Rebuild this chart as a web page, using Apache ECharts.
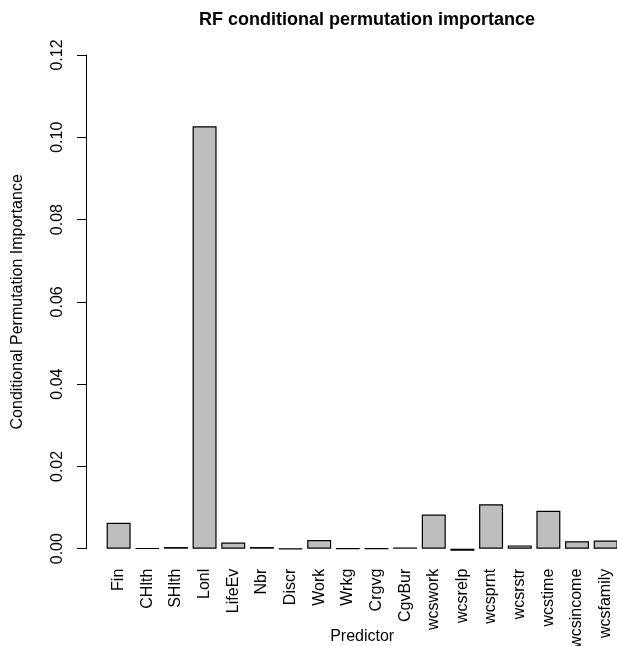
<!DOCTYPE html>
<html>
<head>
<meta charset="utf-8">
<script src="https://cdn.jsdelivr.net/npm/echarts@6/dist/echarts.min.js"></script>
<style>
  html, body { margin: 0; padding: 0; background: #fff; }
  #chart { width: 617px; height: 646px; }
</style>
</head>
<body>
<div id="chart"></div>
<script>
const categories = ["Fin", "CHlth", "SHlth", "Lonl", "LifeEv", "Nbr", "Discr", "Work", "Wrkg",
  "Crgvg", "CgvBur", "wcswork", "wcsrelp", "wcsprnt", "wcsrstr", "wcstime", "wcsincome", "wcsfamily"];
const importance = [0.0063, 0.0001, 0.0004, 0.1027, 0.0015, 0.0004, -0.0001, 0.0021, 0.00005,
  0.00005, 0.0003, 0.0083, -0.0005, 0.0108, 0.0008, 0.0092, 0.0018, 0.0020];
const yTicks = [0, 0.02, 0.04, 0.06, 0.08, 0.10, 0.12];

const FONT = 'Liberation Sans, Arial, Helvetica, sans-serif';
const chart = echarts.init(document.getElementById('chart'), null, { renderer: 'canvas' });
chart.setOption({
  backgroundColor: '#ffffff',
  animation: false,
  title: {
    text: 'RF conditional permutation importance',
    left: 362, top: 6, textAlign: 'center',
    textStyle: { fontFamily: FONT, fontSize: 18, fontWeight: 'bold', color: '#000' }
  },
  grid: { left: 104.3, right: -3, top: 55, bottom: 97.3, containLabel: false, outerBoundsMode: 'none' },
  xAxis: {
    type: 'category',
    data: categories,
    axisLine: { show: false },
    axisTick: { show: false },
    axisLabel: { interval: 0, rotate: 90, margin: 20, fontFamily: FONT, fontSize: 16, color: '#000' },
    name: 'Predictor',
    nameLocation: 'middle',
    nameGap: 80,
    nameMoveOverlap: false,
    nameTextStyle: { fontFamily: FONT, fontSize: 16, color: '#000' }
  },
  yAxis: {
    type: 'value',
    min: yTicks[0],
    max: yTicks[yTicks.length - 1],
    interval: 0.02,
    offset: 18.3,
    splitLine: { show: false },
    axisLine: { show: true, lineStyle: { color: '#000', width: 1 } },
    axisTick: { show: true, length: 9, lineStyle: { color: '#000', width: 1 } },
    axisLabel: {
      rotate: 90, margin: 20, fontFamily: FONT, fontSize: 16, color: '#000',
      formatter: v => v.toFixed(2)
    },
    name: 'Conditional Permutation Importance',
    nameLocation: 'middle',
    nameGap: 60,
    nameMoveOverlap: false,
    nameTextStyle: { fontFamily: FONT, fontSize: 16, color: '#000' }
  },
  series: [{
    type: 'bar',
    data: importance,
    barWidth: 24,
    clip: false,
    itemStyle: { color: '#BEBEBE', borderColor: '#000', borderWidth: 1.2 }
  }]
});
</script>
</body>
</html>
